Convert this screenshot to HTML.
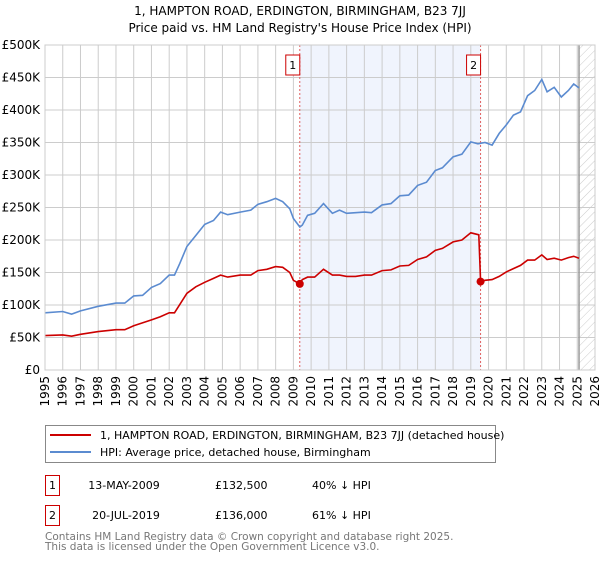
<!DOCTYPE html>
<html><head><meta charset="utf-8"><style>
body{margin:0;background:#fff;font-family:"DejaVu Sans","Liberation Sans",sans-serif;}
svg text{font-family:"DejaVu Sans","Liberation Sans",sans-serif;}
</style></head><body>
<svg id="c" width="600" height="560" xmlns="http://www.w3.org/2000/svg">
<defs><pattern id="hatch" width="6" height="6" patternUnits="userSpaceOnUse" patternTransform="rotate(45)"><line x1="0" y1="0" x2="0" y2="6" stroke="#ccc" stroke-width="1"/></pattern></defs>
<text x="300" y="15" text-anchor="middle" font-size="12">1, HAMPTON ROAD, ERDINGTON, BIRMINGHAM, B23 7JJ</text>
<text x="300" y="32" text-anchor="middle" font-size="12">Price paid vs. HM Land Registry's House Price Index (HPI)</text>
<g id="plot"></g>
<rect x="45.5" y="425.5" width="450" height="37" fill="#fff" stroke="#888"/>
<line x1="50" y1="435" x2="91" y2="435" stroke="#cc0000" stroke-width="2"/>
<text x="100" y="439" font-size="11">1, HAMPTON ROAD, ERDINGTON, BIRMINGHAM, B23 7JJ (detached house)</text>
<line x1="50" y1="452" x2="91" y2="452" stroke="#5b8bd0" stroke-width="2"/>
<text x="100" y="456" font-size="11">HPI: Average price, detached house, Birmingham</text>
<g>
<rect x="45.5" y="475.5" width="14" height="20" fill="none" stroke="#cc0000"/>
<text x="52.5" y="489" text-anchor="middle" font-size="11">1</text>
<text x="124" y="489" text-anchor="middle" font-size="11">13-MAY-2009</text>
<text x="215" y="489" font-size="11">£132,500</text>
<text x="312" y="489" font-size="11">40% ↓ HPI</text></g>
<g>
<rect x="45.5" y="505.5" width="14" height="20" fill="none" stroke="#cc0000"/>
<text x="52.5" y="519" text-anchor="middle" font-size="11">2</text>
<text x="126" y="519" text-anchor="middle" font-size="11">20-JUL-2019</text>
<text x="215" y="519" font-size="11">£136,000</text>
<text x="312" y="519" font-size="11">61% ↓ HPI</text></g>
<text x="45" y="540" font-size="10.5" fill="#777">Contains HM Land Registry data © Crown copyright and database right 2025.</text>
<text x="45" y="550" font-size="10.5" fill="#777">This data is licensed under the Open Government Licence v3.0.</text>
</svg>
<script>
const hpiYears=[1995,1996,1996.5,1997,1998,1999,1999.5,2000,2000.5,2001,2001.5,2002,2002.3,2002.6,2003,2003.5,2004,2004.5,2004.9,2005.3,2006,2006.6,2007,2007.5,2008,2008.4,2008.8,2009,2009.36,2009.5,2009.8,2010.2,2010.7,2011.2,2011.6,2012,2012.5,2013,2013.4,2014,2014.5,2015,2015.5,2016,2016.5,2017,2017.4,2018,2018.5,2019,2019.4,2019.8,2020.2,2020.6,2021,2021.4,2021.8,2022.2,2022.6,2023,2023.3,2023.7,2024.1,2024.5,2024.8,2025.1];
const hpiValues=[88,90,86,91,98,103,103,114,115,127,133,146,146,164,190,207,224,230,243,239,243,246,255,259,264,259,248,233,220,223,238,241,256,241,246,241,242,243,242,254,256,268,269,284,289,307,311,328,332,351,348,350,346,364,377,392,397,422,430,447,428,435,420,430,440,434];
const priceYears=[1995,1996,1996.5,1997,1998,1999,1999.5,2000,2001,2001.5,2002,2002.3,2003,2003.5,2004,2004.5,2004.9,2005.3,2006,2006.6,2007,2007.5,2008,2008.4,2008.8,2009,2009.36,2009.5,2009.8,2010.2,2010.7,2011.2,2011.6,2012,2012.5,2013,2013.4,2014,2014.5,2015,2015.5,2016,2016.5,2017,2017.4,2018,2018.5,2019,2019.45,2019.55,2019.8,2020.2,2020.6,2021,2021.4,2021.8,2022.2,2022.6,2023,2023.3,2023.7,2024.1,2024.5,2024.8,2025.1];
const priceValues=[53,54,52,55,59,62,62,68,77,82,88,88,118,128,135,141,146,143,146,146,153,155,159,158,150,138,132.5,139,143,143,155,146,146,144,144,146,146,153,154,160,161,170,174,184,187,197,200,211,208,136,138,139,144,151,156,161,169,169,177,170,172,169,173,175,172];
const saleYears=[2009.36,2019.55];
const saleValues=[132.5,136];
const saleLabels=["1","2"];
const yTicks=[0,50,100,150,200,250,300,350,400,450,500];
const yTickLabels=["£0","£50K","£100K","£150K","£200K","£250K","£300K","£350K","£400K","£450K","£500K"];
const xTicks=[1995,1996,1997,1998,1999,2000,2001,2002,2003,2004,2005,2006,2007,2008,2009,2010,2011,2012,2013,2014,2015,2016,2017,2018,2019,2020,2021,2022,2023,2024,2025,2026];

const X0=45,X1=595,Y0=370,Y1=45;
const xs=y=>X0+(y-1995)/(2026-1995)*(X1-X0);
const ys=v=>Y0-v/500*(Y0-Y1);
const NS="http://www.w3.org/2000/svg";
const g=document.getElementById('plot');
function mk(t,a){const e=document.createElementNS(NS,t);for(const k in a)e.setAttribute(k,a[k]);g.appendChild(e);return e;}
let e=mk('rect',{x:xs(saleYears[0]),y:Y1,width:xs(saleYears[1])-xs(saleYears[0]),height:Y0-Y1,fill:'#f0f4fd'});


e=mk('rect',{x:xs(2025.1),y:Y1,width:X1-xs(2025.1),height:Y0-Y1,fill:'url(#hatch)'});


xTicks.forEach(t=>{
 e=mk('line',{x1:xs(t),x2:xs(t),y1:Y1,y2:Y0,stroke:'#ccc','stroke-width':1});
 
 
 e=mk('text',{x:0,y:0,'font-size':12,'text-anchor':'end',transform:`translate(${xs(t)+4},${Y0+6}) rotate(-90)`});
 e.textContent=t;
 
 
});
yTicks.forEach((t,i)=>{
 e=mk('line',{x1:X0,x2:X1,y1:ys(t),y2:ys(t),stroke:'#ccc','stroke-width':1});
 
 
 e=mk('text',{x:40,y:ys(t)+4,'font-size':12,'text-anchor':'end'});
 e.textContent=yTickLabels[i];
 
 
});
e=mk('line',{x1:xs(2025.1),x2:xs(2025.1),y1:Y1,y2:Y0,stroke:'#999','stroke-width':1.5});


saleYears.forEach((s,i)=>{
 e=mk('line',{x1:xs(s),x2:xs(s),y1:Y1,y2:Y0,stroke:'#e06060','stroke-width':1,'stroke-dasharray':'2,2'});
 
 
 e=mk('rect',{x:xs(s)-14,y:55,width:14,height:20,fill:'#fff',stroke:'#cc0000'});
 
 
 e=mk('text',{x:xs(s)-7,y:69,'font-size':11,'text-anchor':'middle'});
 e.textContent=saleLabels[i];
 
 
});
e=mk('path',{d:hpiYears.map((y,i)=>(i?'L':'M')+xs(y).toFixed(1)+','+ys(hpiValues[i]).toFixed(1)).join(''),fill:'none',stroke:'#5b8bd0','stroke-width':1.6});


e=mk('path',{d:priceYears.map((y,i)=>(i?'L':'M')+xs(y).toFixed(1)+','+ys(priceValues[i]).toFixed(1)).join(''),fill:'none',stroke:'#cc0000','stroke-width':1.6});


saleYears.forEach((s,i)=>{
 e=mk('circle',{cx:xs(s),cy:ys(saleValues[i]),r:4,fill:'#cc0000'});
 
 
});
e=mk('rect',{x:X0,y:Y1,width:X1-X0,height:Y0-Y1,fill:'none',stroke:'#ccc'});


</script>
</body></html>
